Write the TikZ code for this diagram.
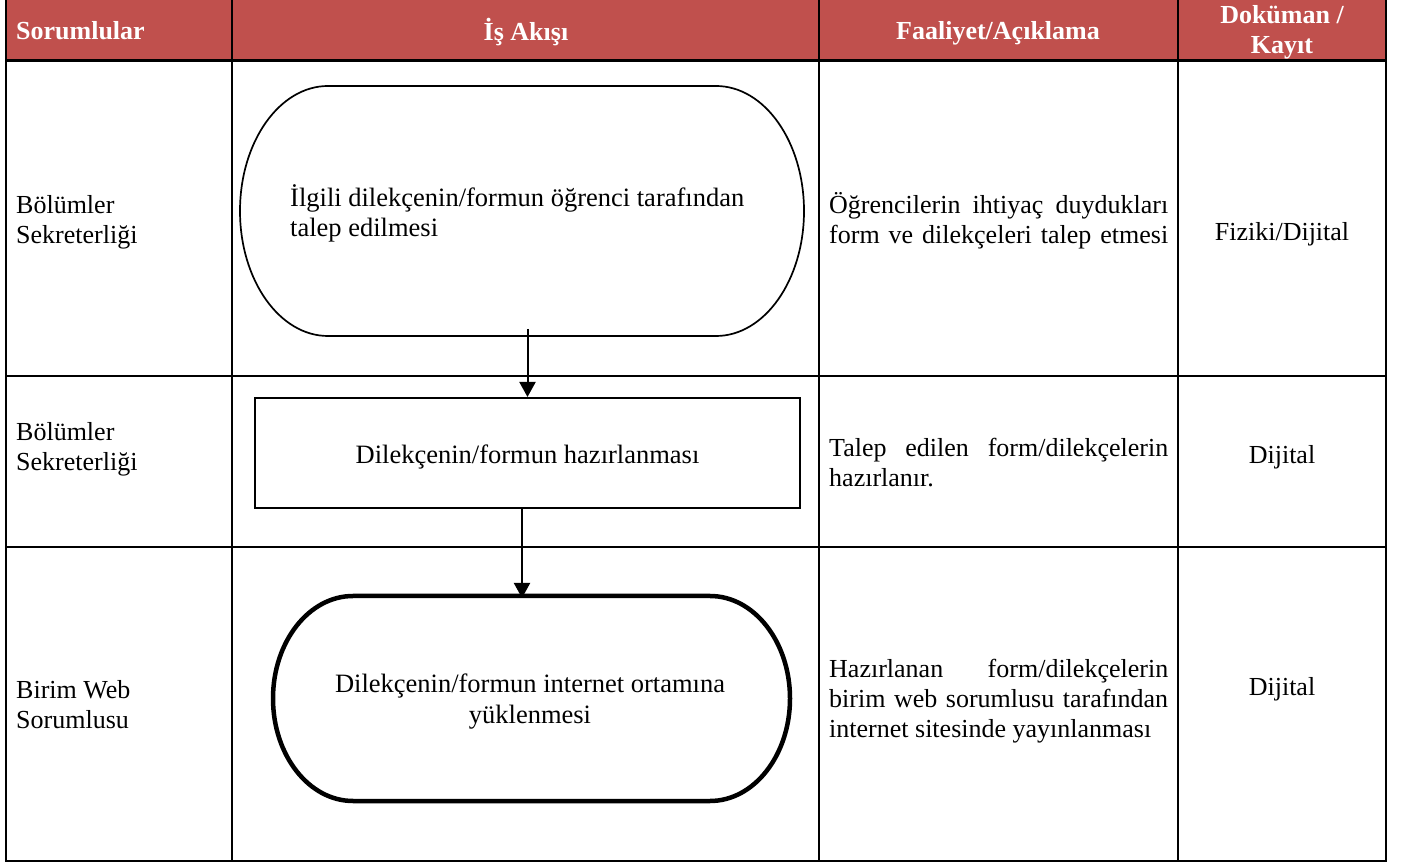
\documentclass[tikz,border=0pt]{standalone}
\usepackage{fontspec}
\setmainfont{Liberation Serif}
\usetikzlibrary{arrows.meta,calc}
\definecolor{hdr}{HTML}{C0504D}
\newcommand\fs{\fontsize{26}{30}\selectfont}
\newcommand\ffs{\fontsize{26.5}{30.5}\selectfont}
\newcommand\jl[1]{\makebox[339pt][s]{#1}}
\newcommand\stadium[4]{%
  \draw[#4] ($(#1.north west)+(#2,0)$) -- ($(#1.north east)-(#2,0)$)
    arc[start angle=90,end angle=-90,x radius=#2,y radius=#3]
    -- ($(#1.south west)+(#2,0)$)
    arc[start angle=270,end angle=90,x radius=#2,y radius=#3] -- cycle;}
\begin{document}
\begin{tikzpicture}[x=1pt,y=1pt,
  grid/.style={line width=2.6pt},
  txt/.style={inner sep=0pt, font=\fs, align=left, anchor=north west},
  ctxt/.style={inner sep=0pt, font=\fs, align=center, anchor=north},
  ftxt/.style={inner sep=0pt, font=\ffs, align=left, anchor=north west},
  fctxt/.style={inner sep=0pt, font=\ffs, align=center, anchor=north},
  htxt/.style={inner sep=0pt, font=\fs\bfseries, text=white, align=center, anchor=north},
  frame/.style={draw=none, inner sep=0pt, outer sep=0pt},
  arr/.style={line width=2pt, -{Triangle[width=16pt,length=15pt]}},
  thin/.style={line width=1.7pt},
  thick/.style={line width=4.5pt}]
\useasboundingbox (0,0) rectangle (1404,867);
% header
\fill[hdr] (6,806) rectangle (1386,867);
% grid
\draw[grid] (6,867) -- (6,6) -- (1386,6) -- (1386,867);
\draw[grid] (232,867) -- (232,6);
\draw[grid] (819,867) -- (819,6);
\draw[grid] (1178,867) -- (1178,6);
\draw[line width=3pt] (6,806) -- (1386,806);
\draw[grid] (6,491) -- (1386,491);
\draw[grid] (6,320) -- (1386,320);
% header texts
\node[htxt, anchor=north west] (h1) at (16,849) {\strut Sorumlular};
\node[htxt] (h2) at (526,849) {\strut İş Akışı};
\node[htxt] (h3) at (998,849) {\strut Faaliyet/Açıklama};
\node[htxt] (h4) at (1282,865) {\strut Doküman /\\Kayıt};
% left column
\node[txt] (r1) at (16,675) {\strut Bölümler\\Sekreterliği};
\node[txt] (r2) at (16,448) {\strut Bölümler\\Sekreterliği};
\node[txt] (r3) at (16,190) {\strut Birim Web\\Sorumlusu};
% flow shapes
\node[frame, minimum width=564pt, minimum height=250pt] (t1) at (522,656) {};
\stadium{t1}{88pt}{125pt}{thin}
\node[draw, line width=2pt, inner sep=0pt, minimum width=545pt, minimum height=110pt] (b1) at (527.5,414) {};
\node[frame, minimum width=517pt, minimum height=205pt] (t2) at (531.5,168.5) {};
\stadium{t2}{80pt}{102.5pt}{thick}
\node[ftxt] (t1txt) at (290,683) {\strut İlgili dilekçenin/formun öğrenci tarafından\\talep edilmesi};
\node[fctxt] (b1txt) at (527.5,425) {\strut Dilekçenin/formun hazırlanması};
\node[fctxt] (t2txt) at (530,196) {\strut Dilekçenin/formun internet ortamına\\yüklenmesi};
% arrows
\draw[arr] ([yshift=7pt]b1.north |- t1.south) -- (b1.north);
\draw[arr] ([xshift=-5.5pt]b1.south) -- ([xshift=-5.5pt,yshift=-2pt]b1.south |- t2.north);
% description column
\node[txt] (d1) at (829,675) {\strut\jl{Öğrencilerin ihtiyaç duydukları}\\\jl{form ve dilekçeleri talep etmesi}};
\node[txt] (d2) at (829,432) {\strut\jl{Talep edilen form/dilekçelerin}\\hazırlanır.};
\node[txt] (d3) at (829,211) {\strut\jl{Hazırlanan form/dilekçelerin}\\\jl{birim web sorumlusu tarafından}\\internet sitesinde yayınlanması};
% document column
\node[ctxt] (k1) at (1282,648) {\strut Fiziki/Dijital};
\node[ctxt] (k2) at (1282,425) {\strut Dijital};
\node[ctxt] (k3) at (1282,193) {\strut Dijital};
\end{tikzpicture}
\end{document}
